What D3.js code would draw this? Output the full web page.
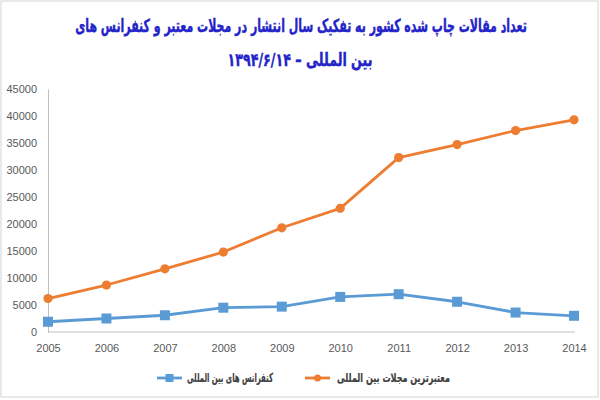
<!DOCTYPE html>
<html><head><meta charset="utf-8">
<script src="https://cdn.jsdelivr.net/npm/d3@7"></script>
<style>body{margin:0;background:#fff}svg{display:block}</style>
</head><body><div id="chart"></div>
<script>
const years = ["2005","2006","2007","2008","2009","2010","2011","2012","2013","2014"];
const journals = [6200, 8700, 11700, 14800, 19300, 22900, 32300, 34700, 37300, 39300];
const conferences = [1900, 2500, 3100, 4500, 4700, 6500, 7000, 5600, 3600, 3000];
const yTicks = [0,5000,10000,15000,20000,25000,30000,35000,40000,45000];
const titleLines = ["تعداد مقالات  چاپ شده کشور به تفکیک  سال انتشار در مجلات معتبر  و  کنفرانس های", "بین المللی – ۱۳۹۴/۶/۱۴"];
const seriesNames = ["کنفرانس های بین المللی", "معتبرترین مجلات بین المللی"];

const W = 600, H = 400;
const svg = d3.select("#chart").append("svg").attr("width", W).attr("height", H);
svg.append("rect").attr("x",1).attr("y",1).attr("width",597).attr("height",396)
  .attr("fill","#fff").attr("stroke","#d4d4d4");

const x = d3.scalePoint().domain(years).range([48, 574]);
const y = d3.scaleLinear().domain([0, 45000]).range([332, 89]);

// fit text to a width by horizontal scaling around its centre
function fitText(sel, cx, cy, w) {
  const n = sel.node().getComputedTextLength();
  const sx = Math.min(1, w / n);
  sel.attr("x", 0).attr("y", 0)
     .attr("transform", `translate(${cx},${cy}) scale(${sx},1)`);
}

// title
const tl = [{t:titleLines[0], y:26, w:452, c:301},{t:titleLines[1], y:60, w:145, c:300}];
tl.forEach(d => {
  const t = svg.append("text").attr("dy","0.35em")
    .attr("text-anchor","middle").attr("direction","rtl")
    .attr("font-family","DejaVu Sans").attr("font-weight","bold").attr("font-size",18)
    .attr("fill","#2323c8").attr("stroke","#2323c8").attr("stroke-width",0.4)
    .text(d.t);
  fitText(t, d.c, d.y, d.w);
});

// axes
const yAxis = svg.append("g").attr("transform","translate(48,0)")
  .call(d3.axisLeft(y).tickValues(yTicks).tickFormat(d3.format("d")).tickSize(0).tickPadding(11));
yAxis.select(".domain").attr("stroke","#bfbfbf");
const xAxis = svg.append("g").attr("transform","translate(0,332)")
  .call(d3.axisBottom(x).tickSize(0).tickPadding(12));
xAxis.select(".domain").attr("stroke","#bfbfbf").attr("d","M48,0H575");
svg.selectAll(".tick text").attr("font-family","Liberation Sans").attr("font-size",11).attr("fill","#595959");

const line = d3.line().x((d,i)=>x(years[i])).y(d=>y(d));
const cBlue = "#5b9bd5", cOrange = "#ed7d31";
svg.append("path").datum(journals).attr("d", line).attr("fill","none").attr("stroke",cOrange).attr("stroke-width",2.8).attr("stroke-linejoin","round");
svg.append("path").datum(conferences).attr("d", line).attr("fill","none").attr("stroke",cBlue).attr("stroke-width",2.8).attr("stroke-linejoin","round");
svg.selectAll(".dotO").data(journals).enter().append("circle")
  .attr("cx",(d,i)=>x(years[i])).attr("cy",d=>y(d)).attr("r",4.6).attr("fill",cOrange);
svg.selectAll(".sqB").data(conferences).enter().append("rect")
  .attr("x",(d,i)=>x(years[i])-5).attr("y",d=>y(d)-5).attr("width",10).attr("height",10).attr("fill",cBlue);

// legend
const leg = [{name:seriesNames[0], c:cBlue, mx:157, tx:187, tw:86, shape:"sq"},
             {name:seriesNames[1], c:cOrange, mx:305, tx:337, tw:113, shape:"ci"}];
leg.forEach(d => {
  svg.append("line").attr("x1",d.mx).attr("x2",d.mx+25).attr("y1",378).attr("y2",378)
    .attr("stroke",d.c).attr("stroke-width",2.8);
  if (d.shape==="sq") svg.append("rect").attr("x",d.mx+12.5-4).attr("y",374).attr("width",8).attr("height",8).attr("fill",d.c);
  else svg.append("circle").attr("cx",d.mx+12.5).attr("cy",378).attr("r",3.5).attr("fill",d.c);
  const t = svg.append("text").attr("dy","0.35em")
    .attr("text-anchor","middle").attr("direction","rtl")
    .attr("font-family","DejaVu Sans").attr("font-weight","bold").attr("font-size",12.5)
    .attr("fill","#404040").attr("stroke","#404040").attr("stroke-width",0.2)
    .text(d.name);
  fitText(t, d.tx + d.tw/2, 378, d.tw);
});
</script></body></html>
